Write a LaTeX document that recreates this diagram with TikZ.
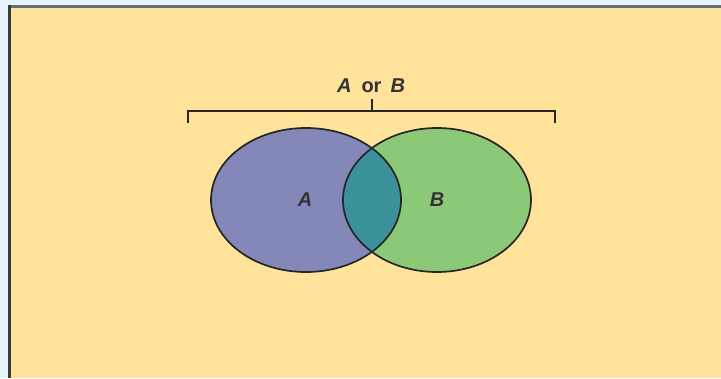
\documentclass[tikz,border=0pt]{standalone}
\usepackage{fontspec}
\setmainfont{Liberation Sans}
\definecolor{bgblue}{HTML}{E8F4FC}
\definecolor{paper}{HTML}{FFE39B}
\definecolor{frame}{HTML}{3A3A3A}
\definecolor{setA}{HTML}{8488B8}
\definecolor{setB}{HTML}{8BC877}
\definecolor{setAB}{HTML}{3A919A}
\begin{document}
\begin{tikzpicture}[x=1pt,y=-1pt,
  lbl/.style={font=\fontsize{20}{22}\selectfont\bfseries, text=black!80, inner sep=0pt},
  outline/.style={draw=black!85, line width=1.7pt},
  bracketline/.style={draw=black!85, line width=1.8pt}]
\useasboundingbox (0,0) rectangle (721,378);
\fill[bgblue] (0,0) rectangle (721,378);
\fill[frame!75] (8,4.5) rectangle (721,7.5);
\fill[frame] (8,4.5) rectangle (10.5,378);
\fill[paper] (10.5,7.5) rectangle (721,378);
% sets
\fill[setA] (306,200) ellipse [x radius=95, y radius=72];
\fill[setB] (437,200) ellipse [x radius=94, y radius=72];
\begin{scope}
  \clip (306,200) ellipse [x radius=95, y radius=72];
  \fill[setAB] (437,200) ellipse [x radius=94, y radius=72];
\end{scope}
\draw[outline] (306,200) ellipse [x radius=95, y radius=72];
\draw[outline] (437,200) ellipse [x radius=94, y radius=72];
\node[lbl] (la) at (305,200) {\itshape A};
\node[lbl] (lb) at (437,200) {\itshape B};
% bracket
\coordinate (bl) at (188,123);
\coordinate (br) at (555,123);
\coordinate (bm) at (372,111);
\coordinate (bt) at (372,99);
\draw[bracketline] (bl) -- (188,111) -- (555,111) -- (br);
\draw[bracketline] (bm) -- (bt);
\node[lbl] (aorb) at (371,86) {\itshape A\hspace{10pt}\upshape or\hspace{9pt}\itshape B};
\end{tikzpicture}
\end{document}
